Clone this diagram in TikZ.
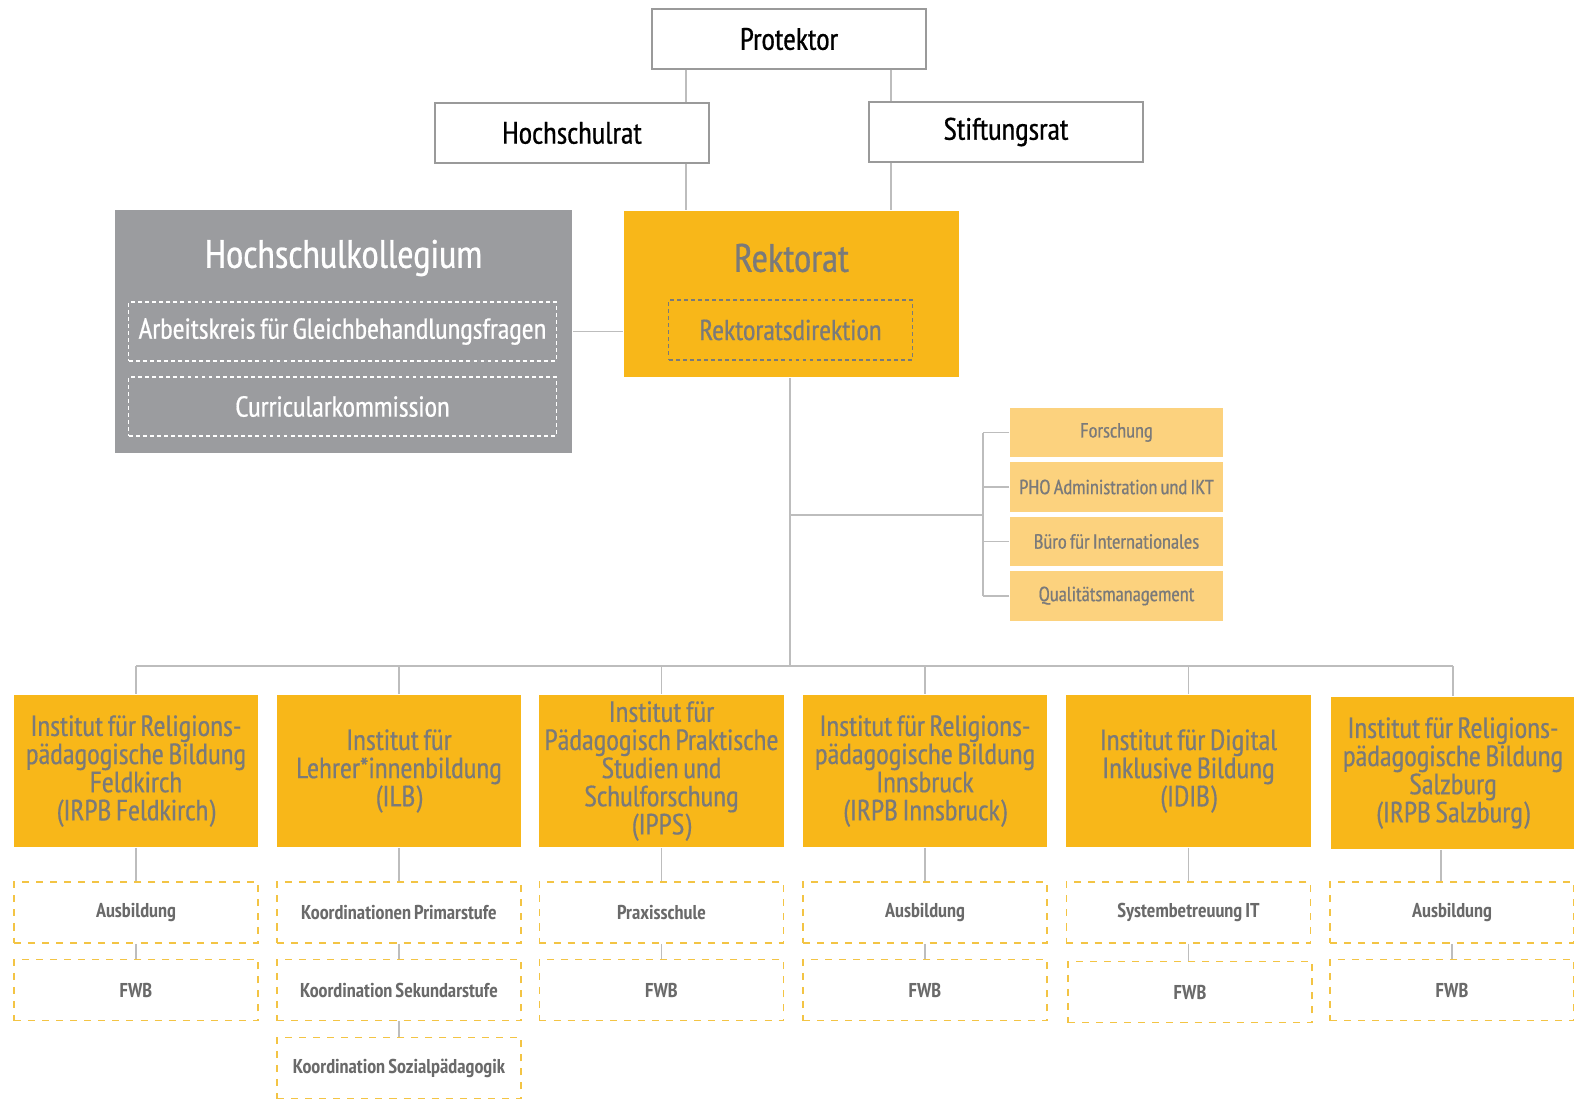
\documentclass[tikz,border=0pt]{standalone}
\usepackage{fontspec}
\setmainfont[WordSpace=0.75]{PT Sans Narrow}
\newfontfamily\medfont[WordSpace=0.75, FakeBold=0.6]{PT Sans Narrow}
\newfontfamily\instfont[WordSpace=0.75, FakeBold=0.4]{PT Sans Narrow}
\definecolor{instorange}{HTML}{F8B719}
\definecolor{stafforange}{HTML}{FCD27E}
\definecolor{kolleggray}{HTML}{9B9C9F}
\definecolor{labelgray}{HTML}{7A7A7A}
\definecolor{subgray}{HTML}{6A6A6A}
\definecolor{dashyellow}{HTML}{F3C444}
\definecolor{linegray}{HTML}{BDBDBD}
\definecolor{boxline}{HTML}{9A9A9A}

\tikzset{
  conn/.style={draw=linegray, line width=0.5pt},
  topbox/.style={draw=boxline, fill=white, line width=0.4pt, inner sep=0pt,
    minimum width=2.74cm, minimum height=0.6cm, font=\medfont\fontsize{8.8}{10}\selectfont},
  bigtitle/.style={inner sep=0pt, font=\medfont\fontsize{11.3}{13}\selectfont},
  whitedash/.style={draw=white, line width=0.3pt, dash pattern=on 1.1pt off 0.9pt,
    inner sep=0pt, minimum width=4.27cm, minimum height=0.59cm, text=white,
    font=\medfont\fontsize{8.2}{9}\selectfont},
  graydash/.style={draw=labelgray, line width=0.3pt, dash pattern=on 1.1pt off 0.9pt,
    inner sep=0pt, minimum width=2.43cm, minimum height=0.6cm, text=labelgray,
    font=\medfont\fontsize{8.2}{9}\selectfont},
  staffbox/.style={fill=stafforange, inner sep=0pt, minimum width=2.13cm,
    minimum height=0.49cm, text=labelgray, font=\medfont\fontsize{5.8}{7}\selectfont},
  instbox/.style={fill=instorange, inner sep=0pt, minimum width=2.44cm,
    minimum height=1.52cm, align=center, text=labelgray,
    font=\instfont\fontsize{8.3}{8}\selectfont},
  subbox/.style={draw=dashyellow, line width=0.5pt, dash pattern=on 2pt off 2pt,
    inner sep=0pt, minimum width=2.44cm, minimum height=0.61cm, text=subgray,
    font=\fontsize{5.7}{7}\bfseries\selectfont},
}

\begin{document}
\begin{tikzpicture}[x=0.01cm, y=-0.01cm]
\useasboundingbox (0,0) rectangle (1574,1100);
\clip (0,0) rectangle (1574,1100);

\node[topbox] (prot) at (789,39) {Protektor};
\node[topbox] (hsr) at (572,133) {Hochschulrat};
\node[topbox] (stift) at (1006,132) {Stiftungsrat};

\node[fill=kolleggray, inner sep=0pt, minimum width=4.57cm, minimum height=2.43cm] (hk) at (343.5,331.5) {};
\node[bigtitle, text=white] (hktitle) at (343.5,258) {Hochschulkollegium};
\node[whitedash] (akg) at (342.5,331.5) {Arbeitskreis für Gleichbehandlungsfragen};
\node[whitedash] (curr) at (342.5,406.5) {Curricularkommission};

\node[fill=instorange, inner sep=0pt, minimum width=3.35cm, minimum height=1.66cm] (rekt) at (791.5,294) {};
\node[bigtitle, text=labelgray] (rekttitle) at (791.5,258) {Rektorat};
\node[graydash] (rdir) at (790.5,330) {Rektoratsdirektion};

\node[staffbox] (forsch) at (1116.5,432.5) {Forschung};
\node[staffbox] (pho) at (1116.5,487) {PHO Administration und IKT};
\node[staffbox] (buero) at (1116.5,541.5) {Büro für Internationales};
\node[staffbox] (quali) at (1116.5,596) {Qualitätsmanagement};

\node[instbox] (ifk) at (136,771) {Institut für Religions-\\pädagogische Bildung\\Feldkirch\\(IRPB Feldkirch)};
\node[instbox] (ilb) at (399,771) {Institut für\\Lehrer*innenbildung\\(ILB)};
\node[instbox] (ipps) at (661.5,771) {Institut für\\Pädagogisch Praktische\\Studien und\\Schulforschung\\(IPPS)};
\node[instbox] (iib) at (925,771) {Institut für Religions-\\pädagogische Bildung\\Innsbruck\\(IRPB Innsbruck)};
\node[instbox] (idib) at (1188.5,771) {Institut für Digital\\Inklusive Bildung\\(IDIB)};
\node[instbox] (isb) at (1453,773) {Institut für Religions-\\pädagogische Bildung\\Salzburg\\(IRPB Salzburg)};

\node[subbox] (ifka) at (136,912.5) {Ausbildung};
\node[subbox] (ifkb) at (136,990) {FWB};
\node[subbox] (ilba) at (399,912.5) {Koordinationen Primarstufe};
\node[subbox] (ilbb) at (399,990) {Koordination Sekundarstufe};
\node[subbox] (ilbc) at (399,1068) {Koordination Sozialpädagogik};
\node[subbox] (ippsa) at (661.5,912.5) {Praxisschule};
\node[subbox] (ippsb) at (661.5,990) {FWB};
\node[subbox] (iiba) at (925,912.5) {Ausbildung};
\node[subbox] (iibb) at (925,990) {FWB};
\node[subbox] (idiba) at (1188.5,912.5) {Systembetreuung IT};
\node[subbox] (idibb) at (1190,992) {FWB};
\node[subbox] (isba) at (1452,912.5) {Ausbildung};
\node[subbox] (isbb) at (1452,990) {FWB};

\coordinate (bus) at (790,666);
\coordinate (spine) at (983,515);

\draw[conn] (prot.south -| 686,0) -- (hsr.north -| 686,0);
\draw[conn] (hsr.south -| 686,0) -- (rekt.north -| 686,0);
\draw[conn] (prot.south -| 891,0) -- (stift.north -| 891,0);
\draw[conn] (stift.south -| 891,0) -- (rekt.north -| 891,0);
\draw[conn] (akg.east -| hk.east) -- (akg.east -| rekt.west);
\draw[conn] (rekt.south -| bus) -- (bus);
\draw[conn] (spine -| bus) -- (spine);
\draw[conn] (spine |- forsch.west) -- (spine |- quali.west);
\draw[conn] (forsch.west) -- (spine |- forsch.west);
\draw[conn] (pho.west) -- (spine |- pho.west);
\draw[conn] (buero.west) -- (spine |- buero.west);
\draw[conn] (quali.west) -- (spine |- quali.west);
\draw[conn] (ifk.north |- bus) -- (isb.north |- bus);
\draw[conn] (ifk.north |- bus) -- (ifk.north);
\draw[conn] (ilb.north |- bus) -- (ilb.north);
\draw[conn] (ipps.north |- bus) -- (ipps.north);
\draw[conn] (iib.north |- bus) -- (iib.north);
\draw[conn] (idib.north |- bus) -- (idib.north);
\draw[conn] (isb.north |- bus) -- (isb.north);
\draw[conn] (ifk.south) -- (ifka.north);
\draw[conn] (ifka.south) -- (ifkb.north);
\draw[conn] (ilb.south) -- (ilba.north);
\draw[conn] (ilba.south) -- (ilbb.north);
\draw[conn] (ilbb.south) -- (ilbc.north);
\draw[conn] (ipps.south) -- (ippsa.north);
\draw[conn] (ippsa.south) -- (ippsb.north);
\draw[conn] (iib.south) -- (iiba.north);
\draw[conn] (iiba.south) -- (iibb.north);
\draw[conn] (idib.south) -- (idiba.north);
\draw[conn] (idiba.south) -- (idiba.south |- idibb.north);
\draw[conn] (isb.south -| 1441,0) -- (isba.north -| 1441,0);
\draw[conn] (isba.south) -- (isbb.north);
\end{tikzpicture}
\end{document}
